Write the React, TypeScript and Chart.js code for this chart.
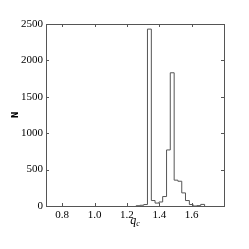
import React, { useEffect, useRef } from 'react';
import { Chart, registerables } from 'chart.js';

Chart.register(...registerables);

// Histogram bin edges (q_c) and counts (N)
const binEdges = [1.257, 1.280, 1.304, 1.327, 1.351, 1.374, 1.398, 1.421, 1.445, 1.468, 1.492, 1.515, 1.539, 1.562, 1.586, 1.609, 1.633, 1.656, 1.680];
const counts = [4, 10, 20, 2430, 75, 40, 55, 130, 770, 1830, 355, 340, 180, 75, 20, 0, 5, 22];

const xTicks = [0.8, 1.0, 1.2, 1.4, 1.6];
const yTicks = [0, 500, 1000, 1500, 2000, 2500];
const xRange = [0.7, 1.8];
const yRange = [0, 2500];

const xLabel = 'q';
const xLabelSub = 'c';
const yLabel = 'N';

const FRAME = '#555';
const LINE = '#555';
const SERIF = '"Liberation Serif", "DejaVu Serif", serif';

const framePlugin = {
  id: 'frameTicks',
  afterDraw(chart: any) {
    const { ctx, chartArea } = chart;
    const { left, right, top, bottom } = chartArea;
    const xs = chart.scales.x;
    const ys = chart.scales.y;
    ctx.save();
    ctx.strokeStyle = FRAME;
    ctx.lineWidth = 1;
    ctx.strokeRect(left + 0.5, top + 0.5, right - left, bottom - top);
    const tl = 3;
    ctx.beginPath();
    xs.ticks.forEach((t: any) => {
      const px = Math.round(xs.getPixelForValue(t.value)) + 0.5;
      ctx.moveTo(px, bottom);
      ctx.lineTo(px, bottom - tl);
      ctx.moveTo(px, top);
      ctx.lineTo(px, top + tl);
    });
    ys.ticks.forEach((t: any) => {
      const py = Math.round(ys.getPixelForValue(t.value)) + 0.5;
      ctx.moveTo(left, py);
      ctx.lineTo(left + tl, py);
      ctx.moveTo(right, py);
      ctx.lineTo(right - tl, py);
    });
    ctx.stroke();

    // y-axis label
    ctx.fillStyle = '#000';
    ctx.font = 'bold 8px "DejaVu Sans", sans-serif';
    ctx.textAlign = 'center';
    ctx.textBaseline = 'middle';
    ctx.translate(15.5, (top + bottom) / 2);
    ctx.rotate(-Math.PI / 2);
    ctx.fillText(yLabel, 0, 0);
    ctx.setTransform(1, 0, 0, 1, 0, 0);

    // x-axis label q_c
    const cx = (left + right) / 2;
    ctx.textBaseline = 'alphabetic';
    ctx.textAlign = 'left';
    ctx.font = 'italic 12px ' + SERIF;
    const wq = ctx.measureText(xLabel).width;
    ctx.font = 'italic 8px ' + SERIF;
    const wc = ctx.measureText(xLabelSub).width;
    const x0 = cx - (wq + wc) / 2;
    ctx.font = 'italic 12px ' + SERIF;
    ctx.fillText(xLabel, x0, 224);
    ctx.font = 'italic 8px ' + SERIF;
    ctx.fillText(xLabelSub, x0 + wq, 226);
    ctx.restore();
  },
};

export default function App() {
  const ref = useRef<HTMLCanvasElement>(null);
  useEffect(() => {
    document.body.style.margin = '0';
    const pts: { x: number; y: number }[] = [{ x: binEdges[0], y: 0 }];
    counts.forEach((c, i) => pts.push({ x: binEdges[i], y: c }));
    pts.push({ x: binEdges[binEdges.length - 1], y: 0 });

    const chart = new Chart(ref.current!, {
      type: 'line',
      data: {
        datasets: [
          {
            data: pts,
            stepped: 'before',
            borderColor: LINE,
            borderWidth: 1,
            pointRadius: 0,
            fill: false,
          },
        ],
      },
      options: {
        animation: false,
        responsive: true,
        maintainAspectRatio: false,
        layout: { padding: { top: 24, right: 25, left: 0, bottom: 0 } },
        plugins: { legend: { display: false }, tooltip: { enabled: false } },
        scales: {
          x: {
            type: 'linear',
            min: xRange[0],
            max: xRange[1],
            grid: { display: false, drawTicks: false },
            border: { display: false },
            afterBuildTicks: (s: any) => {
              s.ticks = xTicks.map((v) => ({ value: v }));
            },
            afterFit: (s: any) => {
              s.height = 43;
            },
            ticks: {
              color: '#000',
              padding: 3,
              maxRotation: 0,
              autoSkip: false,
              font: { family: SERIF, size: 11 },
              callback: (v: any) => Number(v).toFixed(1),
            },
          },
          y: {
            type: 'linear',
            min: yRange[0],
            max: yRange[1],
            grid: { display: false, drawTicks: false },
            border: { display: false },
            afterBuildTicks: (s: any) => {
              s.ticks = yTicks.map((v) => ({ value: v }));
            },
            afterFit: (s: any) => {
              s.width = 46;
            },
            ticks: {
              color: '#000',
              padding: 3,
              autoSkip: false,
              font: { family: SERIF, size: 11 },
              callback: (v: any) => String(v),
            },
          },
        },
      },
      plugins: [framePlugin],
    });
    return () => chart.destroy();
  }, []);
  return (
    <div style={{ width: 249, height: 249, position: 'relative' }}>
      <canvas ref={ref} />
    </div>
  );
}
